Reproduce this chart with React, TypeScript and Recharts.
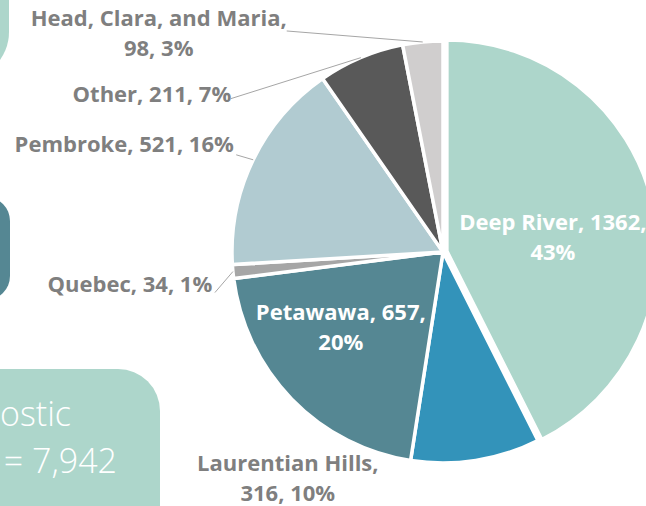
import React from 'react';
import { PieChart, Pie, Cell, Sector } from 'recharts';

// slices, clockwise from 12 o'clock
const towns = ['Deep River', 'Laurentian Hills', 'Petawawa', 'Quebec', 'Pembroke', 'Other', 'Head, Clara, and Maria'];
const counts = [1362, 316, 657, 34, 521, 211, 98];
const shares = ['43%', '10%', '20%', '1%', '16%', '7%', '3%'];
const sliceColors = ['#ADD6CB', '#3393BA', '#558793', '#A6A6A6', '#B1CBD1', '#595959', '#D0CECE'];

const chartData = towns.map((name, i) => ({ name, value: counts[i], share: shares[i] }));

// label placement, Excel style (manually dragged labels)
// r: anchor radius as fraction of outer radius, dx/dy: offset of first baseline, lead: leader start offset
type Place = { r: number; dx: number; dy: number; brk: 'name' | 'value' | 'none'; inside?: boolean; lead?: [number, number] };
const placements: Record<string, Place> = {
  'Deep River': { r: 0.55, dx: -3, dy: 5, brk: 'value', inside: true },
  'Laurentian Hills': { r: 1, dx: -188, dy: 11, brk: 'name' },
  'Petawawa': { r: 0.55, dx: -19, dy: -13, brk: 'value', inside: true },
  'Quebec': { r: 1, dx: -103, dy: 20, brk: 'none', lead: [-18, 21] },
  'Pembroke': { r: 1, dx: -129, dy: -8, brk: 'none', lead: [-17, -5] },
  'Other': { r: 1, dx: -209, dy: 44, brk: 'none', lead: [-130, 41] },
  'Head, Clara, and Maria': { r: 1, dx: -264, dy: -16, brk: 'name', lead: [-136, -11] },
};

const RAD = Math.PI / 180;
const LINE_GAP = 30;

const renderLabel = (props: any) => {
  const { cx, cy, midAngle, outerRadius, name, value, payload } = props;
  const p = placements[name];
  if (!p) return null;
  const r = outerRadius * p.r;
  const ax = cx + r * Math.cos(-midAngle * RAD);
  const ay = cy + r * Math.sin(-midAngle * RAD);
  const share = payload?.share ?? '';
  let lines: string[];
  if (p.brk === 'name') lines = [`${name},`, `${value}, ${share}`];
  else if (p.brk === 'value') lines = [`${name}, ${value},`, share];
  else lines = [`${name}, ${value}, ${share}`];
  const tx = ax + p.dx;
  const ty = ay + p.dy;
  return (
    <g>
      {p.lead && (
        <line x1={ax + p.lead[0]} y1={ay + p.lead[1]} x2={ax} y2={ay} stroke="#A6A6A6" strokeWidth={1} />
      )}
      <text
        x={tx}
        y={ty}
        textAnchor="middle"
        fill={p.inside ? '#FFFFFF' : '#7F7F7F'}
        fontSize={22}
        fontWeight={700}
        fontFamily='"Open Sans", sans-serif'
      >
        {lines.map((t, i) => (
          <tspan key={i} x={tx} y={ty + i * LINE_GAP}>{t}</tspan>
        ))}
      </text>
    </g>
  );
};

// Deep River slice is pulled out a little
const renderSlice = (props: any) => {
  const nm = props.name ?? props.payload?.name;
  if (nm === 'Deep River') {
    const mid = (props.startAngle + props.endAngle) / 2;
    const off = 4;
    return <Sector {...props} cx={props.cx + off * Math.cos(-mid * RAD)} cy={props.cy + off * Math.sin(-mid * RAD)} />;
  }
  return <Sector {...props} />;
};

const App: React.FC = () => {
  return (
    <div style={{ position: 'fixed', left: 0, top: 0, width: 646, height: 506, overflow: 'hidden', background: '#fff', fontFamily: '"Open Sans", sans-serif' }}>
      {/* slide decorations cut off at the left edge */}
      <div style={{ position: 'absolute', left: -200, top: -100, width: 209, height: 180, background: '#ADD6CB', borderRadius: 48 }} />
      <div style={{ position: 'absolute', left: -200, top: 197, width: 210, height: 103, background: '#558793', borderRadius: 24 }} />
      <div style={{ position: 'absolute', left: -200, top: 369, width: 360, height: 180, background: '#ADD6CB', borderRadius: 42 }} />
      <div style={{ position: 'absolute', right: 575, top: 393, color: '#fff', fontSize: 34, fontWeight: 300, lineHeight: '40px', whiteSpace: 'nowrap' }}>ostic</div>
      <div style={{ position: 'absolute', right: 529, top: 440, color: '#fff', fontSize: 34, fontWeight: 300, lineHeight: '40px', whiteSpace: 'nowrap' }}>= 7,942</div>
      <div style={{ position: 'absolute', left: 0, top: 0 }}>
        <PieChart width={646} height={506} margin={{ top: 0, right: 0, bottom: 0, left: 0 }}>
          <Pie
            data={chartData}
            dataKey="value"
            nameKey="name"
            cx={443}
            cy={252}
            outerRadius={211}
            startAngle={90}
            endAngle={-270}
            stroke="#FFFFFF"
            strokeWidth={3.5}
            label={renderLabel}
            labelLine={false}
            shape={renderSlice}
            isAnimationActive={false}
          >
            {chartData.map((d, i) => (
              <Cell key={d.name} fill={sliceColors[i]} />
            ))}
          </Pie>
        </PieChart>
      </div>
    </div>
  );
};

export default App;
